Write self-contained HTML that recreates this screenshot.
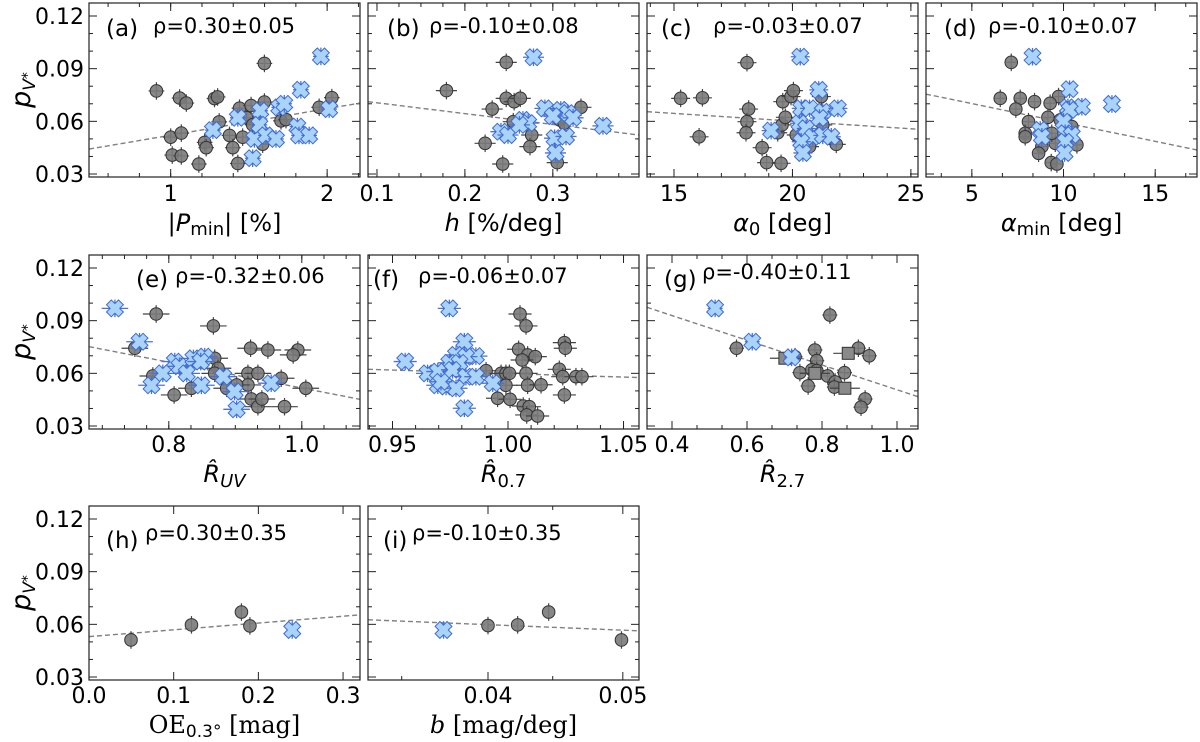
<!DOCTYPE html>
<html><head><meta charset="utf-8"><style>
body{margin:0;background:#fff}
svg{display:block;font-family:"DejaVu Sans","Liberation Sans",sans-serif}
</style></head><body>
<svg id="fig" width="1200" height="742" viewBox="0 0 1200 742" xmlns="http://www.w3.org/2000/svg"></svg>
<script>
// ---- data ----
const aGrayX=[0.909,1.057,1.10,1.0,1.068,1.01,1.068,1.18,1.28,1.30,1.31,1.217,1.227,1.376,1.397,1.429,1.44,1.46,1.486,1.514,1.524,1.599,1.599,1.588,1.705,1.737,1.949,2.03];
const aGrayY=[0.0773,0.0733,0.0704,0.051,0.0533,0.0408,0.0403,0.0357,0.073,0.0739,0.0597,0.048,0.045,0.052,0.045,0.036,0.0675,0.051,0.062,0.069,0.058,0.093,0.071,0.047,0.0603,0.061,0.068,0.0735];
const aBlueX=[1.27,1.429,1.524,1.535,1.573,1.567,1.609,1.673,1.694,1.726,1.832,1.96,1.81,1.82,1.885,2.013];
const aBlueY=[0.055,0.062,0.039,0.050,0.066,0.058,0.052,0.050,0.068,0.070,0.078,0.097,0.057,0.052,0.052,0.067];
const aLine=[0.0442,0.0704];

const bGrayX=[0.179,0.247,0.247,0.256,0.263,0.231,0.255,0.276,0.274,0.223,0.243,0.305,0.308,0.313,0.332];
const bGrayY=[0.0775,0.0936,0.0731,0.0712,0.0731,0.0670,0.0598,0.0522,0.0456,0.0475,0.0357,0.0365,0.0608,0.0590,0.0680];
const bBlueX=[0.278,0.291,0.241,0.249,0.266,0.272,0.309,0.317,0.323,0.302,0.315,0.303,0.357,0.262,0.30];
const bBlueY=[0.0965,0.0674,0.0541,0.0522,0.0608,0.0590,0.0665,0.0647,0.062,0.0504,0.0514,0.0420,0.0574,0.058,0.063];
const bLine=[0.0712,0.0522];

const cGrayX=[15.28,16.2,16.06,18.08,18.15,18.08,18.04,18.72,18.91,19.52,19.38,19.56,19.70,19.59,19.94,20.04,21.22,20.72,21.85,20.16,21.28];
const cGrayY=[0.0731,0.0734,0.0512,0.0934,0.067,0.0598,0.0535,0.045,0.0365,0.0361,0.0535,0.058,0.0623,0.0712,0.0741,0.0775,0.0741,0.0456,0.0469,0.0522,0.058];
const cBlueX=[20.33,21.11,19.1,20.37,20.72,21.28,21.92,20.3,20.58,20.86,21.28,21.64,20.37,20.44,21.14];
const cBlueY=[0.0968,0.0779,0.0547,0.0674,0.0674,0.0655,0.0674,0.0589,0.056,0.0512,0.052,0.0512,0.0484,0.042,0.0619];
const cLine=[0.0655,0.0555];

const dGrayX=[7.15,6.55,7.64,8.42,7.40,8.09,9.73,9.27,9.15,7.91,7.91,8.82,8.64,9.33,9.64,9.55,9.82,10.45,10.73,9.36];
const dGrayY=[0.0936,0.0731,0.0731,0.0712,0.067,0.0598,0.0741,0.0703,0.0623,0.0532,0.0512,0.0456,0.0418,0.0365,0.0357,0.0475,0.0608,0.057,0.0466,0.0532];
const dBlueX=[8.31,10.33,11.0,12.64,10.24,10.33,10.0,8.73,8.82,10.09,10.45,10.09,10.06];
const dBlueY=[0.0968,0.0783,0.0683,0.0699,0.068,0.0665,0.0598,0.0551,0.0512,0.0532,0.0522,0.0484,0.042];
const dLine=[0.0755,0.0437];

const eGrayX=[0.781,0.749,0.867,0.923,0.949,0.994,0.987,0.869,0.874,0.869,0.919,0.934,0.969,1.006,0.919,0.902,0.887,0.924,0.934,0.974,0.808,0.834,0.776,0.94];
const eGrayY=[0.0938,0.0743,0.0870,0.0743,0.0733,0.0733,0.0705,0.0686,0.0629,0.06,0.06,0.06,0.0572,0.0515,0.0534,0.0534,0.0515,0.0454,0.0410,0.0410,0.0477,0.0515,0.0585,0.0454];
const eBlueX=[0.719,0.756,0.809,0.816,0.837,0.854,0.848,0.791,0.827,0.774,0.849,0.882,0.899,0.954,0.902];
const eBlueY=[0.0970,0.078,0.0667,0.064,0.0685,0.0695,0.0667,0.06,0.06,0.0532,0.0532,0.0581,0.0496,0.0544,0.0395];
const eLine=[0.0752,0.0452];

const fGrayX=[1.0052,1.0078,1.0244,1.0248,1.0046,1.0085,1.0118,1.0061,1.0222,0.9905,0.997,0.9991,1.0006,1.0078,1.0237,1.0294,1.032,0.9991,1.0085,1.0143,0.9955,1.0009,1.0244,1.0066,1.0092,1.0081,1.0128];
const fGrayY=[0.0938,0.0870,0.0775,0.0743,0.0737,0.0705,0.0695,0.0676,0.0623,0.0615,0.060,0.060,0.060,0.060,0.0581,0.0581,0.0581,0.0532,0.0532,0.0535,0.0458,0.0452,0.0477,0.0414,0.041,0.0363,0.0357];
const fBlueX=[0.9746,0.9811,0.9555,0.9775,0.9861,0.9818,0.9746,0.979,0.9652,0.9696,0.976,0.9818,0.9861,0.9934,0.9696,0.9732,0.9775,0.9811,0.971];
const fBlueY=[0.097,0.078,0.0667,0.0705,0.0698,0.0695,0.066,0.066,0.060,0.061,0.062,0.0581,0.0581,0.0544,0.0532,0.0525,0.0515,0.0401,0.0552];
const fLine=[0.0623,0.0576];

const gGrayX=[0.821,0.572,0.781,0.897,0.926,0.728,0.786,0.741,0.773,0.786,0.815,0.860,0.835,0.763,0.833,0.915,0.904];
const gGrayY=[0.0932,0.0743,0.0733,0.0743,0.07,0.0695,0.0672,0.0604,0.062,0.0615,0.0585,0.0604,0.0551,0.0528,0.0522,0.0454,0.0407];
const gSqX=[0.701,0.870,0.861,0.781];
const gSqY=[0.0686,0.0714,0.0515,0.060];
const gBlueX=[0.515,0.614,0.719];
const gBlueY=[0.097,0.078,0.0691];
const gLine=[0.0976,0.0467];

const hGrayX=[0.0496,0.121,0.180,0.190];
const hGrayY=[0.0511,0.0597,0.0670,0.0591];
const hBlueX=[0.240];
const hBlueY=[0.0568];
const hLine=[0.0530,0.0654];

const iGrayX=[0.040,0.0422,0.0445,0.0499];
const iGrayY=[0.0593,0.0597,0.067,0.0511];
const iBlueX=[0.0367];
const iBlueY=[0.0568];
const iLine=[0.0626,0.0563];

const yTickVals=[0.03,0.06,0.09,0.12];
const yTickLabels=["0.03","0.06","0.09","0.12"];

const NS="http://www.w3.org/2000/svg";
const svg=document.getElementById('fig');
function mk(tag,attrs,parent){const e=document.createElementNS(NS,tag);for(const k in attrs)e.setAttribute(k,attrs[k]);(parent||svg).appendChild(e);return e;}

const colX=[89,368,647,926], W=271;
const rowY=[3,255,506], H=174;
const YMIN=0.0283,YMAX=0.1274;

const panels=[
 {id:'a',c:0,r:0,x0:0.478,x1:2.21,maj:[1,2],majL:["1","2"],minStep:0.2,gx:aGrayX,gy:aGrayY,bx:aBlueX,by:aBlueY,line:aLine,xe:0.05,lab:[106,36],rho:[153,33],rhoT:"\u03c1=0.30\u00b10.05"},
 {id:'b',c:1,r:0,x0:0.0898,x1:0.398,maj:[0.1,0.2,0.3],majL:["0.1","0.2","0.3"],minStep:0.025,gx:bGrayX,gy:bGrayY,bx:bBlueX,by:bBlueY,line:bLine,xe:0.012,lab:[387,36],rho:[429,33],rhoT:"\u03c1=-0.10\u00b10.08"},
 {id:'c',c:2,r:0,x0:13.86,x1:25.3,maj:[15,20,25],majL:["15","20","25"],minStep:1,gx:cGrayX,gy:cGrayY,bx:cBlueX,by:cBlueY,line:cLine,xe:0.4,lab:[661,36],rho:[713,33],rhoT:"\u03c1=-0.03\u00b10.07"},
 {id:'d',c:3,r:0,x0:2.5,x1:17.28,maj:[5,10,15],majL:["5","10","15"],minStep:5/3,gx:dGrayX,gy:dGrayY,bx:dBlueX,by:dBlueY,line:dLine,xe:0.3,lab:[944,36],rho:[988,33],rhoT:"\u03c1=-0.10\u00b10.07"},
 {id:'e',c:0,r:1,x0:0.68,x1:1.0875,maj:[0.8,1.0],majL:["0.8","1.0"],minStep:0.2/6,gx:eGrayX,gy:eGrayY,bx:eBlueX,by:eBlueY,line:eLine,xe:0.02,lab:[136,287],rho:[175,283],rhoT:"\u03c1=-0.32\u00b10.06"},
 {id:'f',c:1,r:1,x0:0.9394,x1:1.0567,maj:[0.95,1.0,1.05],majL:["0.95","1.00","1.05"],minStep:0.01,gx:fGrayX,gy:fGrayY,bx:fBlueX,by:fBlueY,line:fLine,xe:0.005,lab:[373,287],rho:[418,283],rhoT:"\u03c1=-0.06\u00b10.07"},
 {id:'g',c:2,r:1,x0:0.3333,x1:1.056,maj:[0.4,0.6,0.8,1.0],majL:["0.4","0.6","0.8","1.0"],minStep:0.2/3,gx:gGrayX,gy:gGrayY,bx:gBlueX,by:gBlueY,line:gLine,xe:0.02,lab:[664,287],rho:[702,279],rhoT:"\u03c1=-0.40\u00b10.11",sx:gSqX,sy:gSqY},
 {id:'h',c:0,r:2,x0:0.0,x1:0.32,maj:[0,0.1,0.2,0.3],majL:["0.0","0.1","0.2","0.3"],minStep:0,gx:hGrayX,gy:hGrayY,bx:hBlueX,by:hBlueY,line:hLine,xe:0,lab:[106,548],rho:[145,540],rhoT:"\u03c1=0.30\u00b10.35"},
 {id:'i',c:1,r:2,x0:0.0311,x1:0.0512,maj:[0.04,0.05],majL:["0.04","0.05"],minStep:0.0112,gx:iGrayX,gy:iGrayY,bx:iBlueX,by:iBlueY,line:iLine,xe:0,lab:[383,548],rho:[412,540],rhoT:"\u03c1=-0.10\u00b10.35"}
];

const xTitles={
 a:'<tspan>|</tspan><tspan font-style="italic">P</tspan><tspan font-size="18" dy="4">min</tspan><tspan dy="-4">| [%]</tspan>',
 b:'<tspan font-style="italic">h</tspan><tspan> [%/deg]</tspan>',
 c:'<tspan font-style="italic">\u03b1</tspan><tspan font-size="18" dy="4">0</tspan><tspan dy="-4"> [deg]</tspan>',
 d:'<tspan font-style="italic">\u03b1</tspan><tspan font-size="18" dy="4">min</tspan><tspan dy="-4"> [deg]</tspan>',
 e:'<tspan font-style="italic">R\u0302</tspan><tspan font-size="18" font-style="italic" dy="5">UV</tspan>',
 f:'<tspan font-style="italic">R\u0302</tspan><tspan font-size="18" dy="5">0.7</tspan>',
 g:'<tspan font-style="italic">R\u0302</tspan><tspan font-size="18" dy="5">2.7</tspan>',
 h:'<tspan font-family="DejaVu Serif,Liberation Serif,serif">OE</tspan><tspan font-size="17" dy="4">0.3\u00b0</tspan><tspan dy="-4" font-family="DejaVu Serif,Liberation Serif,serif"> [mag]</tspan>',
 i:'<tspan font-style="italic" font-family="DejaVu Serif,Liberation Serif,serif">b</tspan><tspan font-family="DejaVu Serif,Liberation Serif,serif"> [mag/deg]</tspan>'
};
const tickBase=[201,452,703], titleBase=[231,482,733];

function crossPath(cx,cy){
  const s=8.5,t=3.4; // arm length, half arm width (plus sign rotated 45deg)
  const p=[[t,-s],[t,-t],[s,-t],[s,t],[t,t],[t,s],[-t,s],[-t,t],[-s,t],[-s,-t],[-t,-t],[-t,-s]];
  const c=Math.SQRT1_2;
  return 'M'+p.map(q=>(cx+(q[0]-q[1])*c).toFixed(1)+','+(cy+(q[0]+q[1])*c).toFixed(1)).join('L')+'Z';
}

panels.forEach(P=>{
  const L=colX[P.c],T=rowY[P.r];
  const sx=v=>L+(v-P.x0)/(P.x1-P.x0)*W;
  const sy=v=>T+(YMAX-v)/(YMAX-YMIN)*H;
  const g=mk('g',{});
  
  
  const cp=mk('clipPath',{id:'cp'+P.id},g);
  mk('rect',{x:L,y:T,width:W,height:H},cp);
  const tk=mk('g',{stroke:'#222','stroke-width':1},g);
  
  
  for(let v=0.03;v<=0.1201;v+=0.01){
    const y=sy(v),maj=Math.abs(((v-0.03)/0.03)-Math.round((v-0.03)/0.03))<0.01;const l=maj?8:4;
    mk('line',{x1:L,y1:y,x2:L+l,y2:y},tk);mk('line',{x1:L+W,y1:y,x2:L+W-l,y2:y},tk);
  }
  if(P.minStep>0){
    const k0=Math.ceil(P.x0/P.minStep-1e-6);
    for(let k=k0;k*P.minStep<=P.x1;k++){const x=sx(k*P.minStep);mk('line',{x1:x,y1:T,x2:x,y2:T+4},tk);mk('line',{x1:x,y1:T+H,x2:x,y2:T+H-4},tk);}
  }
  P.maj.forEach(v=>{const x=sx(v);mk('line',{x1:x,y1:T,x2:x,y2:T+8},tk);mk('line',{x1:x,y1:T+H,x2:x,y2:T+H-8},tk);});
  P.maj.forEach((v,i)=>{const t=mk('text',{x:sx(v),y:tickBase[P.r],'font-size':22,'text-anchor':'middle',fill:'#000'},g);t.textContent=P.majL[i];
    });
  if(P.c===0){yTickVals.forEach((v,i)=>{const t=mk('text',{x:L-5,y:sy(v)+8,'font-size':22,'text-anchor':'end',fill:'#000'},g);t.textContent=yTickLabels[i];
    });
    const yl=mk('text',{x:0,y:0,'font-size':27,'text-anchor':'middle',transform:'translate(30,'+(T+H/2)+') rotate(-90)'},g);
    yl.innerHTML='<tspan font-style="italic">p</tspan><tspan font-size="17" font-style="italic" dy="5">V</tspan><tspan font-size="14" dy="-3">*</tspan>';
    
  }
  const xt=mk('text',{x:L+W/2,y:titleBase[P.r],'font-size':24,'text-anchor':'middle'},g);
  xt.innerHTML=xTitles[P.id];
  
  const mg=mk('g',{'clip-path':'url(#cp'+P.id+')'},g);
  const rl=mk('line',{x1:L,y1:sy(P.line[0]),x2:L+W,y2:sy(P.line[1]),stroke:'#808080','stroke-width':1.4,'stroke-dasharray':'5,3'},mg);
  
  const ye=0.005;
  P.gx.forEach((xv,i)=>{
    const x=sx(xv),y=sy(P.gy[i]);
    const e=mk('g',{},mg);
    
    if(P.xe)mk('line',{x1:sx(xv-P.xe),y1:y,x2:sx(xv+P.xe),y2:y,stroke:'#444','stroke-width':1.2},e);
    mk('line',{x1:x,y1:sy(P.gy[i]-ye),x2:x,y2:sy(P.gy[i]+ye),stroke:'#444','stroke-width':1.2},e);
    mk('circle',{cx:x,cy:y,r:6.3,fill:'#7a7a7a','fill-opacity':0.9,stroke:'#333','stroke-width':1},e);
  });
  if(P.sx)P.sx.forEach((xv,i)=>{
    const x=sx(xv),y=sy(P.sy[i]);
    const e=mk('g',{},mg);
    
    mk('line',{x1:sx(xv-0.04),y1:y,x2:sx(xv+0.04),y2:y,stroke:'#444','stroke-width':1.2},e);
    mk('rect',{x:x-6,y:y-6,width:12,height:12,fill:'#8a8a8a',stroke:'#333','stroke-width':1},e);
  });
  P.bx.forEach((xv,i)=>{
    const x=sx(xv),y=sy(P.by[i]);
    const e=mk('g',{},mg);
    
    if(P.xe)mk('line',{x1:sx(xv-P.xe),y1:y,x2:sx(xv+P.xe),y2:y,stroke:'#4b72d2','stroke-width':1.3},e);
    mk('line',{x1:x,y1:sy(P.by[i]-ye),x2:x,y2:sy(P.by[i]+ye),stroke:'#4b72d2','stroke-width':1.3},e);
    mk('path',{d:crossPath(x,y),fill:'#a9d4f7',stroke:'#3d6ad6','stroke-width':1},e);
  });
  const fr=mk('rect',{x:L,y:T,width:W,height:H,fill:'none',stroke:'#222','stroke-width':1.2},g);
  
  const lt=mk('text',{x:P.lab[0],y:P.lab[1],'font-size':23},g);lt.textContent='('+P.id+')';
  
  const rt=mk('text',{x:P.rho[0],y:P.rho[1],'font-size':21},g);rt.textContent=P.rhoT;
  
});
</script>
</body></html>
